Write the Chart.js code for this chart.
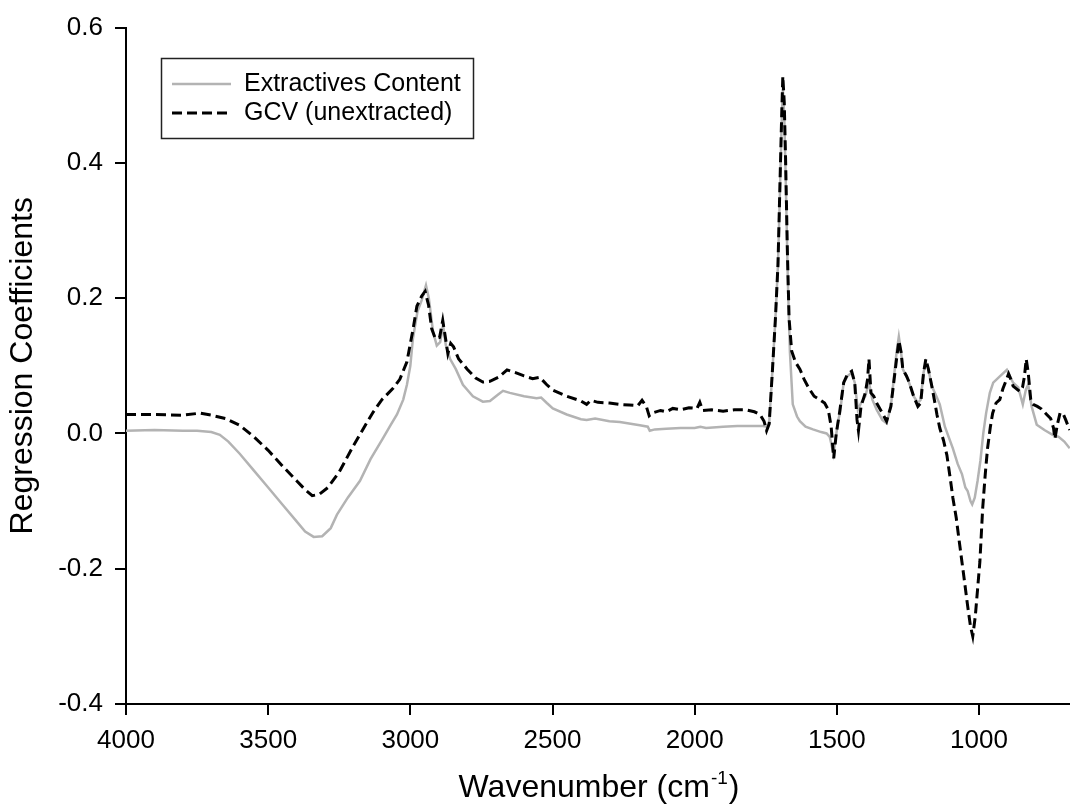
<!DOCTYPE html>
<html>
<head>
<meta charset="utf-8">
<script src="https://cdn.jsdelivr.net/npm/chart.js@4.4.1/dist/chart.umd.min.js"></script>
<style>
html, body { margin: 0; padding: 0; background: #fff; }
#wrap { width: 1070px; height: 810px; }
</style>
</head>
<body>
<div id="wrap"><canvas id="myChart" width="1070" height="810"></canvas></div>
<script>
// tick labels
var xTicks = [4000, 3500, 3000, 2500, 2000, 1500, 1000];
var yTicks = [-0.4, -0.2, 0.0, 0.2, 0.4, 0.6];

// GCV (unextracted) - black dashed
var gcvWave = [4000, 3900, 3800, 3740, 3700, 3650, 3600, 3550, 3500, 3450, 3400, 3370, 3345, 3320, 3290, 3250, 3200, 3150, 3130, 3100,
  3060, 3037, 3012, 2990, 2977, 2960, 2948, 2936, 2925, 2912, 2897, 2886, 2876, 2868, 2858, 2848, 2830, 2800, 2770, 2745,
  2720, 2690, 2660, 2630, 2600, 2570, 2545, 2520, 2499, 2450, 2400, 2380, 2365, 2340, 2300, 2265, 2230, 2200, 2185, 2170,
  2160, 2150, 2120, 2100, 2077, 2050, 2020, 1992, 1982, 1972, 1940, 1900, 1860, 1820, 1790, 1770, 1756, 1747, 1738, 1727,
  1716, 1707, 1700, 1694, 1690, 1685, 1680, 1674, 1668, 1659, 1645, 1630, 1615, 1600, 1580, 1560, 1543, 1530, 1520, 1511,
  1502, 1490, 1476, 1462, 1448, 1437, 1429, 1424, 1415, 1400, 1392, 1387, 1380, 1370, 1360, 1340, 1325, 1310, 1300, 1290,
  1282, 1274, 1268, 1255, 1245, 1230, 1215, 1205, 1195, 1187, 1178, 1166, 1155, 1148, 1138, 1125, 1113, 1100, 1092, 1080,
  1074, 1060, 1050, 1040, 1030, 1022, 1013, 1005, 997, 987, 978, 970, 960, 952, 940, 927, 916, 905, 896, 888,
  880, 868, 857, 847, 840, 834, 827, 818, 810, 795, 780, 762, 748, 738, 733, 725, 715, 705, 695, 681];
var gcvValues = [0.028, 0.028, 0.027, 0.030, 0.027, 0.022, 0.012, -0.005, -0.025, -0.048, -0.070, -0.083, -0.092, -0.090, -0.080, -0.057, -0.018, 0.018, 0.032, 0.050,
  0.067, 0.080, 0.106, 0.155, 0.188, 0.203, 0.210, 0.190, 0.155, 0.140, 0.142, 0.167, 0.140, 0.118, 0.133, 0.128, 0.110, 0.095, 0.082, 0.076,
  0.077, 0.083, 0.094, 0.090, 0.085, 0.081, 0.083, 0.072, 0.064, 0.055, 0.048, 0.043, 0.049, 0.046, 0.045, 0.043, 0.042, 0.041, 0.049, 0.040,
  0.026, 0.030, 0.034, 0.032, 0.037, 0.035, 0.038, 0.037, 0.046, 0.034, 0.035, 0.033, 0.035, 0.035, 0.032, 0.028, 0.018, 0.004, 0.014, 0.090,
  0.170, 0.250, 0.370, 0.470, 0.528, 0.490, 0.400, 0.270, 0.170, 0.122, 0.105, 0.095, 0.080, 0.068, 0.055, 0.050, 0.045, 0.035, 0.010, -0.037,
  0.000, 0.032, 0.075, 0.088, 0.092, 0.075, 0.020, 0.004, 0.040, 0.060, 0.080, 0.110, 0.060, 0.055, 0.045, 0.030, 0.018, 0.040, 0.075, 0.110,
  0.137, 0.120, 0.095, 0.085, 0.075, 0.055, 0.040, 0.045, 0.090, 0.110, 0.095, 0.070, 0.045, 0.028, 0.008, -0.010, -0.032, -0.070, -0.095, -0.125,
  -0.145, -0.190, -0.222, -0.255, -0.285, -0.300, -0.270, -0.230, -0.190, -0.110, -0.060, -0.022, 0.010, 0.030, 0.045, 0.050, 0.066, 0.078, 0.088, 0.080,
  0.070, 0.066, 0.062, 0.068, 0.085, 0.110, 0.090, 0.050, 0.043, 0.040, 0.036, 0.028, 0.022, 0.008, -0.008, 0.012, 0.030, 0.030, 0.020, 0.005];

// Extractives Content - grey solid
var extWave = [4000, 3900, 3800, 3750, 3700, 3670, 3640, 3600, 3550, 3500, 3450, 3400, 3370, 3340, 3310, 3280, 3258, 3220, 3177, 3140,
  3096, 3070, 3047, 3025, 3012, 3000, 2991, 2975, 2960, 2945, 2935, 2920, 2907, 2895, 2885, 2875, 2860, 2840, 2815, 2780,
  2745, 2720, 2690, 2674, 2650, 2600, 2556, 2540, 2520, 2499, 2450, 2400, 2380, 2350, 2300, 2263, 2220, 2193, 2165, 2158,
  2140, 2100, 2050, 2000, 1980, 1960, 1900, 1850, 1800, 1760, 1748, 1738, 1727, 1716, 1707, 1700, 1694, 1690, 1685, 1680,
  1672, 1665, 1655, 1640, 1630, 1610, 1584, 1555, 1536, 1525, 1512, 1505, 1495, 1489, 1476, 1462, 1448, 1437, 1426, 1415,
  1400, 1387, 1375, 1360, 1340, 1325, 1310, 1300, 1290, 1282, 1274, 1268, 1250, 1230, 1215, 1205, 1195, 1187, 1178, 1166,
  1150, 1138, 1120, 1092, 1075, 1060, 1048, 1040, 1030, 1024, 1015, 1005, 995, 985, 975, 962, 950, 925, 902, 880,
  862, 846, 835, 827, 815, 797, 770, 741, 720, 700, 681];
var extValues = [0.004, 0.005, 0.004, 0.004, 0.002, -0.002, -0.012, -0.030, -0.055, -0.080, -0.105, -0.130, -0.145, -0.153, -0.152, -0.140, -0.120, -0.095, -0.070, -0.038,
  -0.007, 0.012, 0.028, 0.050, 0.072, 0.100, 0.140, 0.180, 0.197, 0.219, 0.200, 0.150, 0.130, 0.135, 0.160, 0.130, 0.110, 0.095, 0.072, 0.055,
  0.047, 0.048, 0.058, 0.063, 0.060, 0.055, 0.052, 0.053, 0.045, 0.037, 0.028, 0.021, 0.020, 0.022, 0.018, 0.017, 0.014, 0.012, 0.010, 0.004,
  0.006, 0.007, 0.008, 0.008, 0.010, 0.008, 0.010, 0.011, 0.011, 0.011, 0.010, 0.015, 0.090, 0.170, 0.250, 0.360, 0.460, 0.510, 0.470, 0.380,
  0.220, 0.120, 0.043, 0.025, 0.018, 0.010, 0.006, 0.002, 0.000, -0.005, -0.030, -0.010, 0.020, 0.030, 0.075, 0.085, 0.090, 0.075, 0.035, 0.045,
  0.055, 0.075, 0.050, 0.035, 0.020, 0.015, 0.040, 0.080, 0.120, 0.143, 0.120, 0.095, 0.080, 0.055, 0.045, 0.050, 0.090, 0.105, 0.095, 0.070,
  0.055, 0.043, 0.010, -0.022, -0.045, -0.060, -0.080, -0.085, -0.100, -0.105, -0.095, -0.070, -0.040, 0.000, 0.030, 0.060, 0.075, 0.085, 0.094, 0.075,
  0.068, 0.043, 0.065, 0.072, 0.040, 0.013, 0.005, -0.002, -0.005, -0.012, -0.022];

var fontFamily = '"Liberation Sans", Arial, Helvetica, sans-serif';

function toPoints(xs, ys) {
  return xs.map(function (x, i) { return { x: x, y: ys[i] }; });
}

// legend drawn inside the plot, top left
var insideLegend = {
  id: 'insideLegend',
  afterDraw: function (chart) {
    var ctx = chart.ctx;
    var ds = chart.data.datasets.slice().reverse();
    ctx.save();
    ctx.strokeStyle = '#222';
    ctx.lineWidth = 1.5;
    ctx.strokeRect(161.5, 58.5, 312, 80);
    ctx.font = '25px ' + fontFamily;
    ctx.fillStyle = '#000';
    ctx.textBaseline = 'middle';
    for (var i = 0; i < ds.length; i++) {
      var y = 84 + i * 29;
      ctx.beginPath();
      ctx.strokeStyle = ds[i].borderColor;
      ctx.lineWidth = ds[i].borderWidth;
      ctx.setLineDash(ds[i].borderDash || []);
      ctx.moveTo(172, y);
      ctx.lineTo(231, y);
      ctx.stroke();
      ctx.setLineDash([]);
      ctx.fillText(ds[i].label, 244, y);
    }
    ctx.restore();
  }
};

// x axis title with superscript
var xTitle = {
  id: 'xTitle',
  afterDraw: function (chart) {
    var ctx = chart.ctx;
    var a = chart.chartArea;
    var main = 'Wavenumber (cm', sup = '-1', end = ')';
    ctx.save();
    ctx.fillStyle = '#000';
    ctx.textBaseline = 'alphabetic';
    ctx.font = '32px ' + fontFamily;
    var w1 = ctx.measureText(main).width, w3 = ctx.measureText(end).width;
    ctx.font = '19px ' + fontFamily;
    var w2 = ctx.measureText(sup).width;
    var x0 = (a.left + a.right) / 2 - (w1 + w2 + w3) / 2;
    var yb = 797;
    ctx.font = '32px ' + fontFamily;
    ctx.fillText(main, x0, yb);
    ctx.font = '19px ' + fontFamily;
    ctx.fillText(sup, x0 + w1 + 1, yb - 13);
    ctx.font = '32px ' + fontFamily;
    ctx.fillText(end, x0 + w1 + w2 + 2, yb);
    ctx.restore();
  }
};

window.onload = function () {
  var ctx = document.getElementById('myChart').getContext('2d');
  new Chart(ctx, {
    type: 'line',
    data: {
      datasets: [{
        label: 'GCV (unextracted)',
        data: toPoints(gcvWave, gcvValues),
        borderColor: '#000000',
        borderWidth: 3,
        borderDash: [10, 5],
        pointRadius: 0,
        tension: 0,
        fill: false
      }, {
        label: 'Extractives Content',
        data: toPoints(extWave, extValues),
        borderColor: '#b3b3b3',
        borderWidth: 2.5,
        pointRadius: 0,
        tension: 0,
        fill: false
      }]
    },
    options: {
      responsive: false,
      animation: false,
      devicePixelRatio: 1,
      layout: { padding: { top: 24, right: 0, left: 0, bottom: 0 } },
      plugins: { legend: { display: false }, tooltip: { enabled: false } },
      scales: {
        x: {
          type: 'linear',
          reverse: true,
          min: 680,
          max: 4000,
          afterBuildTicks: function (s) { s.ticks = xTicks.map(function (v) { return { value: v }; }); },
          afterFit: function (s) { s.height = 106; },
          ticks: {
            color: '#000', font: { size: 26, family: fontFamily }, padding: 10, maxRotation: 0, autoSkip: false,
            callback: function (v) { return String(v); }
          },
          grid: { drawOnChartArea: false, drawTicks: true, tickLength: 11, color: '#000', lineWidth: 2 },
          border: { display: true, color: '#000', width: 2 }
        },
        y: {
          min: -0.4,
          max: 0.6,
          afterBuildTicks: function (s) { s.ticks = yTicks.map(function (v) { return { value: v }; }); },
          afterFit: function (s) { s.width = 126; },
          ticks: {
            color: '#000', font: { size: 26, family: fontFamily }, padding: 12,
            callback: function (v) { return v.toFixed(1); }
          },
          grid: { drawOnChartArea: false, drawTicks: true, tickLength: 11, color: '#000', lineWidth: 2 },
          border: { display: true, color: '#000', width: 2 },
          title: {
            display: true,
            text: 'Regression Coefficients',
            color: '#000',
            font: { size: 32, family: fontFamily, weight: 'normal' },
            padding: { top: 4, bottom: 0 }
          }
        }
      }
    },
    plugins: [insideLegend, xTitle]
  });
};
</script>
</body>
</html>
